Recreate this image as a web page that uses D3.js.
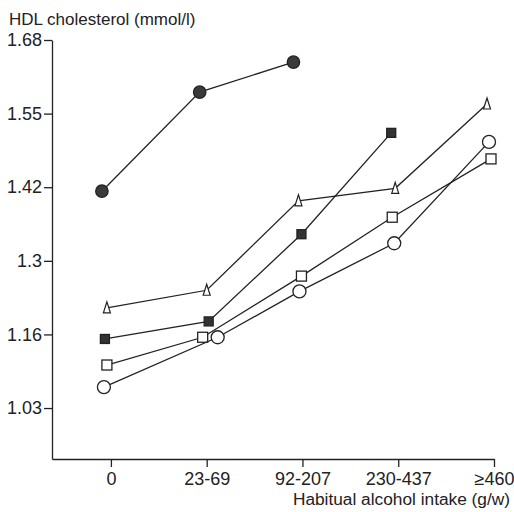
<!DOCTYPE html>
<html>
<head>
<meta charset="utf-8">
<script src="https://cdnjs.cloudflare.com/ajax/libs/d3/7.8.5/d3.min.js"></script>
<style>
  body { margin: 0; background: #fff; }
  text { font-family: "Liberation Sans", Arial, sans-serif; fill: #222; }
</style>
</head>
<body>
<script>
// categories on the x axis
const intakeGroups = ["0", "23-69", "92-207", "230-437", "\u2265460"];

// HDL values, one array per group (null = no point)
const filledCircle = [1.413, 1.588, 1.641, null, null];
const openTriangle = [1.207, 1.238, 1.396, 1.418, 1.567];
const filledSquare = [1.152, 1.183, 1.337, 1.516, null];
const openSquare   = [1.106, 1.155, 1.263, 1.367, 1.470];
const openCircle   = [1.067, 1.155, 1.236, 1.321, 1.500];

// y tick values and the labels printed beside them
const yTickValues = [1.03, 1.16, 1.29, 1.42, 1.55, 1.68];
const yTickLabels = ["1.03", "1.16", "1.3", "1.42", "1.55", "1.68"];

let margin = null,
    width = null,
    height = null;
let svg = null;
let x, y = null;

// marker styling per series; dx = small horizontal dodge in pixels
const seriesList = [
  {values: filledCircle, shape: "circle",   fill: "#3a3a3a", size: 6.2, dx: [-9, -7, -9, 0, 0]},
  {values: openTriangle, shape: "triangle", fill: "#fff",    size: 5,   dx: [-4, 0, -4, -3, -7]},
  {values: filledSquare, shape: "square",   fill: "#333",    size: 4.5, dx: [-6, 2, -1, -7, 0]},
  {values: openSquare,   shape: "square",   fill: "#fff",    size: 5,   dx: [-4, -4, -1, -6, -3]},
  {values: openCircle,   shape: "circle",   fill: "#fff",    size: 6.5, dx: [-7, 11, -3, -4, -5]}
];

setupCanvasSize();
appendSvg("body");
setupScales();
appendAxes();
appendSeries();
appendTitles();

function setupCanvasSize() {
  margin = {top: 40, left: 52, bottom: 53, right: 20};
  width = 514 - margin.left - margin.right;
  height = 512 - margin.top - margin.bottom;
}

function appendSvg(domElement) {
  svg = d3.select(domElement).append("svg")
    .attr("width", 514)
    .attr("height", 512)
    .append("g")
    .attr("transform", `translate(${margin.left}, ${margin.top})`);
}

function setupScales() {
  // index based so the axis line can start left of the first group
  x = d3.scaleLinear()
    .domain([-0.615, intakeGroups.length - 1])
    .range([0, 442]);
  y = d3.scaleLinear()
    .domain([0.94, 1.68])
    .range([height, 0]);
}

function appendAxes() {
  const xAxis = svg.append("g")
    .attr("transform", `translate(0, ${height})`)
    .call(d3.axisBottom(x)
      .tickValues(d3.range(intakeGroups.length))
      .tickFormat(i => intakeGroups[i])
      .tickSizeInner(8)
      .tickSizeOuter(0)
      .tickPadding(5));

  const yAxis = svg.append("g")
    .call(d3.axisLeft(y)
      .tickValues(yTickValues)
      .tickFormat((d, i) => yTickLabels[i])
      .tickSizeInner(8)
      .tickSizeOuter(0)
      .tickPadding(2));

  [xAxis, yAxis].forEach(a => {
    a.selectAll("path, line").attr("stroke", "#222").attr("stroke-width", 1.3);
    a.selectAll("text").attr("font-size", 18).attr("fill", "#222")
      .style("font-family", "'Liberation Sans', Arial, sans-serif");
  });
}

function appendSeries() {
  const line = d3.line()
    .defined(d => d.v !== null)
    .x(d => d.x)
    .y(d => d.y);

  seriesList.forEach(s => {
    const pts = s.values.map((v, i) => ({
      v: v,
      x: x(i) + s.dx[i],
      y: v === null ? 0 : y(v)
    }));

    svg.append("path")
      .datum(pts)
      .attr("d", line)
      .attr("fill", "none")
      .attr("stroke", "#222")
      .attr("stroke-width", 1.3);

    const marks = svg.selectAll(null)
      .data(pts.filter(d => d.v !== null))
      .enter();

    if (s.shape === "circle") {
      marks.append("circle")
        .attr("cx", d => d.x)
        .attr("cy", d => d.y)
        .attr("r", s.size)
        .attr("fill", s.fill)
        .attr("stroke", "#222")
        .attr("stroke-width", 1.3);
    } else if (s.shape === "square") {
      marks.append("rect")
        .attr("x", d => d.x - s.size)
        .attr("y", d => d.y - s.size)
        .attr("width", s.size * 2)
        .attr("height", s.size * 2)
        .attr("fill", s.fill)
        .attr("stroke", "#222")
        .attr("stroke-width", 1.3);
    } else {
      marks.append("path")
        .attr("d", d => `M${d.x},${d.y - 6}L${d.x + 3.5},${d.y + 5}L${d.x - 3.5},${d.y + 5}Z`)
        .attr("fill", s.fill)
        .attr("stroke", "#222")
        .attr("stroke-width", 1.2);
    }
  });
}

function appendTitles() {
  svg.append("text")
    .attr("x", 9 - margin.left)
    .attr("y", 25 - margin.top)
    .attr("font-size", 17)
    .text("HDL cholesterol (mmol/l)");

  svg.append("text")
    .attr("x", 510 - margin.left)
    .attr("y", 505 - margin.top)
    .attr("text-anchor", "end")
    .attr("font-size", 17.3)
    .text("Habitual alcohol intake (g/w)");
}
</script>
</body>
</html>
